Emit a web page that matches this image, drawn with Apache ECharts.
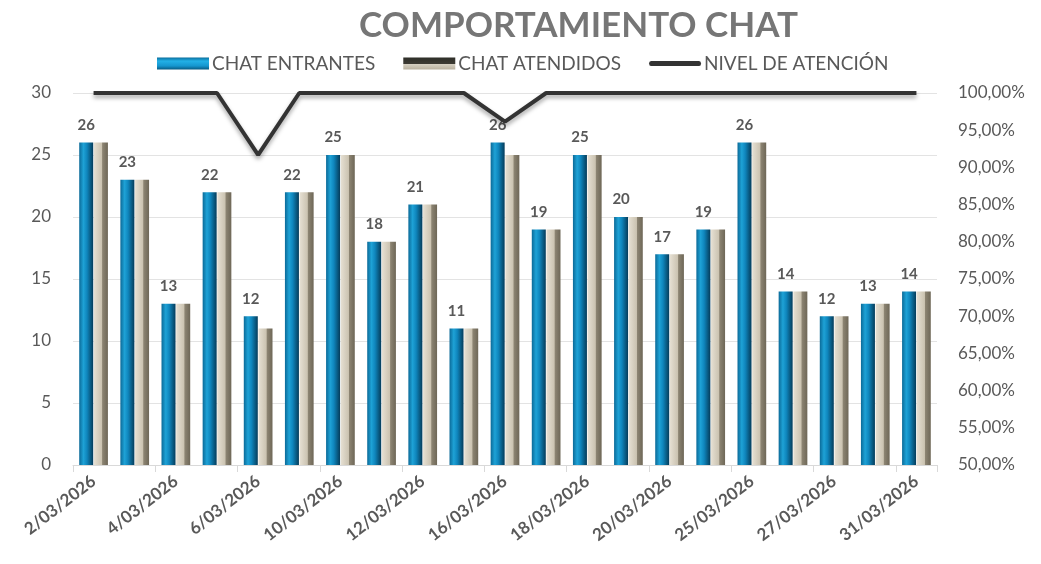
<!DOCTYPE html>
<html>
<head>
<meta charset="utf-8">
<script src="https://cdn.jsdelivr.net/npm/echarts@6/dist/echarts.min.js"></script>
<style>
  html, body { margin: 0; padding: 0; background: #fff; }
  #chart { width: 1041px; height: 564px; }
</style>
</head>
<body>
<div id="chart"></div>
<script>
// datos del gráfico
var fechas = ['2/03/2026', '3/03/2026', '4/03/2026', '5/03/2026', '6/03/2026', '9/03/2026', '10/03/2026',
  '11/03/2026', '12/03/2026', '13/03/2026', '16/03/2026', '17/03/2026', '18/03/2026', '19/03/2026',
  '20/03/2026', '24/03/2026', '25/03/2026', '26/03/2026', '27/03/2026', '30/03/2026', '31/03/2026'];
var chatEntrantes = [26, 23, 13, 22, 12, 22, 25, 18, 21, 11, 26, 19, 25, 20, 17, 19, 26, 14, 12, 13, 14];
var chatAtendidos = [26, 23, 13, 22, 11, 22, 25, 18, 21, 11, 25, 19, 25, 20, 17, 19, 26, 14, 12, 13, 14];
var nivelAtencion = [100, 100, 100, 100, 91.67, 100, 100, 100, 100, 100, 96.15, 100, 100, 100, 100, 100, 100, 100, 100, 100, 100];

var fuente = 'Lato';
var gris = '#595959';

var azul = new echarts.graphic.LinearGradient(0, 0, 1, 0, [
  { offset: 0, color: '#0b6a98' },
  { offset: 0.3, color: '#1ea2d6' },
  { offset: 0.55, color: '#0f86bd' },
  { offset: 1, color: '#053c5a' }
]);
var beige = new echarts.graphic.LinearGradient(0, 0, 1, 0, [
  { offset: 0, color: '#e6e0d3' },
  { offset: 0.55, color: '#cbc3b1' },
  { offset: 0.62, color: '#8c8472' },
  { offset: 1, color: '#6e6757' }
]);
// iconos de la leyenda con sombreado vertical
var azulLeyenda = new echarts.graphic.LinearGradient(0, 0, 0, 1, [
  { offset: 0, color: '#0a6f9e' },
  { offset: 0.3, color: '#22b0e6' },
  { offset: 0.7, color: '#1596cf' },
  { offset: 1, color: '#075a82' }
]);
var beigeLeyenda = new echarts.graphic.LinearGradient(0, 0, 0, 1, [
  { offset: 0, color: '#2e2e28' },
  { offset: 0.5, color: '#3c3a33' },
  { offset: 0.55, color: '#d6d0c2' },
  { offset: 1, color: '#b9b19f' }
]);

var chart = echarts.init(document.getElementById('chart'));
chart.setOption({
  animation: false,
  textStyle: { fontFamily: fuente },
  title: {
    text: 'COMPORTAMIENTO CHAT',
    left: 354,
    top: 3,
    textStyle: { fontFamily: fuente, fontSize: 35, fontWeight: 'bold', color: '#767676' }
  },
  legend: {
    top: 49,
    left: 152,
    itemWidth: 52,
    itemHeight: 12,
    itemGap: 28,
    textStyle: { fontFamily: fuente, fontSize: 19, color: gris, padding: [0, 0, 0, -2] },
    data: [
      { name: 'CHAT ENTRANTES', icon: 'rect', itemStyle: { color: azulLeyenda } },
      { name: 'CHAT ATENDIDOS', icon: 'rect', itemStyle: { color: beigeLeyenda } },
      { name: 'NIVEL DE ATENCIÓN', icon: 'path://M2,0 L50,0 Q52,0 52,2.5 Q52,5 50,5 L2,5 Q0,5 0,2.5 Q0,0 2,0 Z' }
    ]
  },
  grid: { left: 73, right: 104, top: 93, bottom: 99 },
  xAxis: {
    type: 'category',
    data: fechas,
    axisLine: { lineStyle: { color: '#d9d9d9' } },
    axisTick: { show: true, length: 7, lineStyle: { color: '#d9d9d9' } },
    axisLabel: {
      interval: 1,
      rotate: 38,
      fontFamily: fuente,
      fontSize: 17,
      fontWeight: 'bold',
      color: gris,
      margin: 14
    }
  },
  yAxis: [
    {
      type: 'value',
      min: 0,
      max: 30,
      interval: 5,
      axisLine: { show: false },
      axisTick: { show: false },
      axisLabel: { fontFamily: fuente, fontSize: 17, color: gris, margin: 22 },
      splitLine: { lineStyle: { color: '#e3e3e3' } }
    },
    {
      type: 'value',
      min: 50,
      max: 100,
      interval: 5,
      axisLine: { show: false },
      axisTick: { show: false },
      splitLine: { show: false },
      axisLabel: {
        fontFamily: fuente, fontSize: 17, color: gris, margin: 21,
        formatter: function (v) { return v.toFixed(2).replace('.', ',') + '%'; }
      }
    }
  ],
  series: [
    {
      name: 'CHAT ENTRANTES',
      type: 'bar',
      data: chatEntrantes,
      barWidth: 14,
      barGap: '5%',
      itemStyle: { color: azul },
      label: {
        show: true,
        position: 'top',
        distance: 10,
        fontFamily: fuente,
        fontSize: 15,
        fontWeight: 'bold',
        color: gris
      }
    },
    {
      name: 'CHAT ATENDIDOS',
      type: 'bar',
      data: chatAtendidos,
      barWidth: 14,
      itemStyle: { color: beige }
    },
    {
      name: 'NIVEL DE ATENCIÓN',
      type: 'line',
      yAxisIndex: 1,
      data: nivelAtencion,
      symbol: 'none',
      z: 5,
      itemStyle: { color: '#333333' },
      lineStyle: {
        color: '#333333',
        width: 4,
        shadowColor: 'rgba(0,0,0,0.35)',
        shadowBlur: 4,
        shadowOffsetY: 3
      }
    }
  ]
});
</script>
</body>
</html>
